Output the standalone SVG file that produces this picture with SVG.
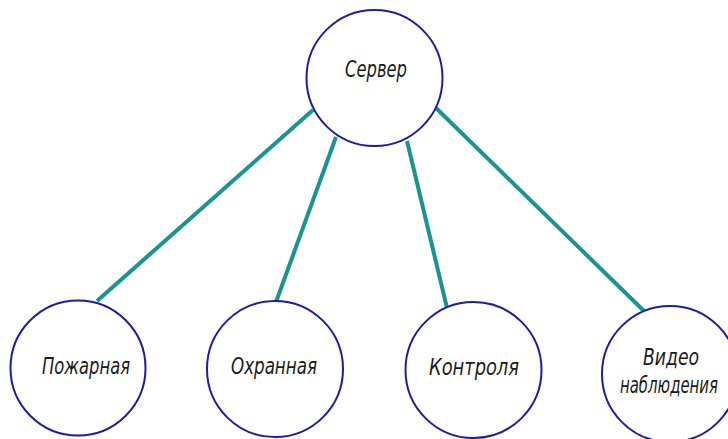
<svg xmlns="http://www.w3.org/2000/svg" width="728" height="439" viewBox="0 0 728 439">
<style>
.n{fill:#fff;stroke:#1c1ca6;stroke-width:2}
.t{font-family:"Liberation Sans Narrow","DejaVu Sans Condensed","Liberation Sans",sans-serif;font-style:italic;font-size:23px;fill:#1a1a1a;text-anchor:middle}
.c{stroke:#1a9490;stroke-width:4;fill:none}
</style>
<rect width="728" height="439" fill="#fff"/>
<g id="connectors">
<line class="c" x1="313" y1="110" x2="97" y2="301"/>
<line class="c" x1="336" y1="137" x2="276" y2="302"/>
<line class="c" x1="407" y1="141" x2="447" y2="308"/>
<line class="c" x1="436" y1="108" x2="644" y2="311"/>
</g>
<g id="server"><circle class="n" cx="374.5" cy="78" r="68"/><text class="t" x="376" y="77" textLength="62" lengthAdjust="spacingAndGlyphs">Сервер</text></g>
<g id="pozharnaya"><circle class="n" cx="78" cy="368" r="67.5"/><text class="t" x="86" y="374" textLength="88" lengthAdjust="spacingAndGlyphs">Пожарная</text></g>
<g id="okhrannaya"><circle class="n" cx="275" cy="369" r="68"/><text class="t" x="274" y="374" textLength="86" lengthAdjust="spacingAndGlyphs">Охранная</text></g>
<g id="kontrolya"><circle class="n" cx="473.5" cy="370" r="68"/><text class="t" x="474" y="375" textLength="90" lengthAdjust="spacingAndGlyphs">Контроля</text></g>
<g id="video"><circle class="n" cx="670" cy="374" r="68"/><text class="t" x="671" y="365" textLength="56" lengthAdjust="spacingAndGlyphs">Видео</text><text class="t" x="669" y="393" textLength="98" lengthAdjust="spacingAndGlyphs">наблюдения</text></g>
</svg>
